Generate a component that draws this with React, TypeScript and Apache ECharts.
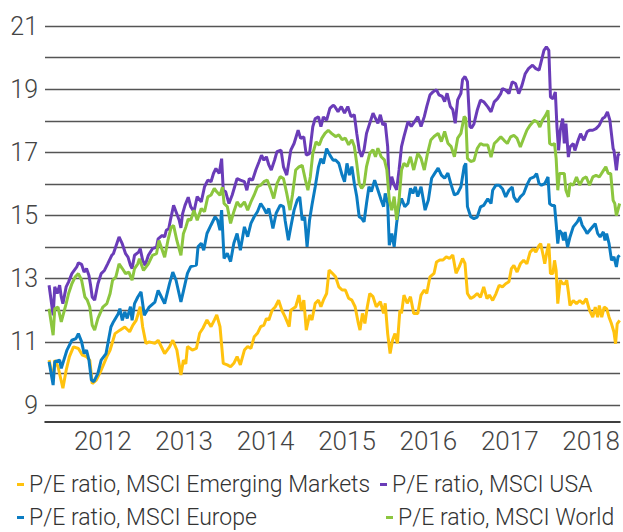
import React, { useEffect, useRef } from "react";
import * as echarts from "echarts";

// Year labels (placed at mid-year on the time axis)
const yearLabels = [2012, 2013, 2014, 2015, 2016, 2017, 2018];

const nameEM = "P/E ratio, MSCI Emerging Markets";
const nameUSA = "P/E ratio, MSCI USA";
const nameEurope = "P/E ratio, MSCI Europe";
const nameWorld = "P/E ratio, MSCI World";

// [decimal year, P/E]
const emergingMarkets: [number, number][] = [
  [2011.84, 10.42], [2011.89, 9.79], [2011.91, 10.42], [2011.95, 10.21], [2012.01, 9.53], [2012.05, 10.1],
  [2012.09, 10.53], [2012.14, 10.84], [2012.2, 10.79], [2012.25, 10.58], [2012.3, 10.53], [2012.34, 10.42],
  [2012.37, 9.68], [2012.42, 9.79], [2012.48, 10.1], [2012.55, 10.53], [2012.59, 10.74], [2012.65, 11.26],
  [2012.71, 11.37], [2012.77, 11.47], [2012.83, 11.32], [2012.87, 11.53], [2012.91, 11.68], [2012.96, 12.11],
  [2012.99, 11.47], [2013.03, 10.95], [2013.07, 11.0], [2013.14, 10.95], [2013.18, 11.05], [2013.26, 10.63],
  [2013.32, 10.84], [2013.36, 11.05], [2013.41, 10.74], [2013.46, 9.95], [2013.49, 10.42], [2013.52, 10.3],
  [2013.54, 10.85], [2013.6, 10.74], [2013.65, 10.79], [2013.69, 11.27], [2013.73, 11.43], [2013.78, 11.69],
  [2013.83, 11.48], [2013.87, 11.69], [2013.9, 11.85], [2013.94, 11.48], [2013.98, 10.32], [2014.03, 10.27],
  [2014.07, 10.21], [2014.11, 10.32], [2014.15, 10.53], [2014.19, 10.27], [2014.24, 10.74], [2014.28, 10.85],
  [2014.32, 10.79], [2014.36, 11.16], [2014.4, 11.27], [2014.44, 11.48], [2014.48, 11.53], [2014.51, 11.74],
  [2014.54, 11.69], [2014.58, 12.0], [2014.62, 12.11], [2014.66, 12.32], [2014.7, 12.0], [2014.74, 11.79],
  [2014.79, 11.48], [2014.81, 12.0], [2014.87, 12.11], [2014.91, 12.48], [2014.94, 12.0], [2014.97, 12.32],
  [2015.0, 11.37], [2015.04, 11.85], [2015.07, 11.69], [2015.11, 12.22], [2015.15, 12.32], [2015.18, 12.11],
  [2015.21, 12.32], [2015.25, 12.53], [2015.28, 13.27], [2015.32, 13.17], [2015.36, 13.06], [2015.4, 12.74],
  [2015.44, 12.64], [2015.48, 12.64], [2015.52, 12.38], [2015.56, 12.32], [2015.6, 12.11], [2015.64, 11.58],
  [2015.66, 11.37], [2015.69, 11.9], [2015.72, 11.58], [2015.75, 12.11], [2015.78, 12.53], [2015.82, 12.43],
  [2015.86, 12.11], [2015.91, 12.27], [2015.95, 11.9], [2015.97, 12.22], [2016.0, 11.26], [2016.03, 10.63],
  [2016.06, 11.06], [2016.09, 11.26], [2016.12, 10.95], [2016.15, 12.0], [2016.17, 11.9], [2016.2, 12.48],
  [2016.24, 12.22], [2016.28, 12.43], [2016.32, 11.9], [2016.37, 11.9], [2016.41, 12.48], [2016.45, 12.64],
  [2016.48, 12.53], [2016.52, 13.06], [2016.57, 13.17], [2016.6, 13.53], [2016.64, 13.59], [2016.68, 13.59],
  [2016.72, 13.69], [2016.76, 13.64], [2016.8, 13.75], [2016.84, 13.17], [2016.88, 13.38], [2016.92, 13.64],
  [2016.95, 13.48], [2016.98, 12.53], [2017.02, 12.37], [2017.06, 12.43], [2017.1, 12.53], [2017.14, 12.41],
  [2017.18, 12.74], [2017.22, 12.37], [2017.25, 12.48], [2017.29, 12.31], [2017.33, 12.52], [2017.37, 12.79],
  [2017.41, 12.74], [2017.45, 12.84], [2017.49, 12.9], [2017.52, 13.32], [2017.55, 13.42], [2017.59, 13.21],
  [2017.63, 13.47], [2017.67, 13.58], [2017.71, 13.47], [2017.75, 13.84], [2017.79, 13.95], [2017.82, 13.84],
  [2017.86, 14.05], [2017.88, 14.11], [2017.91, 13.74], [2017.93, 13.47], [2017.96, 13.9], [2017.98, 14.11],
  [2018.0, 13.16], [2018.03, 13.16], [2018.05, 13.58], [2018.07, 13.26], [2018.09, 12.21], [2018.12, 12.95],
  [2018.15, 12.84], [2018.18, 12.84], [2018.2, 12.95], [2018.22, 12.58], [2018.24, 12.15], [2018.28, 12.31],
  [2018.32, 12.21], [2018.36, 12.31], [2018.4, 12.21], [2018.44, 12.37], [2018.48, 12.0], [2018.52, 11.78],
  [2018.55, 12.1], [2018.58, 11.78], [2018.6, 12.15], [2018.63, 11.78], [2018.66, 12.1], [2018.69, 12.05],
  [2018.72, 11.78], [2018.75, 11.57], [2018.78, 11.31], [2018.8, 10.94], [2018.82, 11.57], [2018.85, 11.68],
];

const usa: [number, number][] = [
  [2011.84, 12.79], [2011.89, 11.84], [2011.91, 12.74], [2011.94, 12.53], [2011.97, 12.79], [2011.99, 12.42],
  [2012.01, 12.21], [2012.05, 12.74], [2012.08, 12.9], [2012.12, 13.16], [2012.18, 13.37], [2012.2, 13.5],
  [2012.24, 13.45], [2012.27, 13.21], [2012.3, 13.32], [2012.33, 13.1], [2012.35, 12.79], [2012.37, 12.42],
  [2012.4, 12.32], [2012.44, 12.84], [2012.48, 13.16], [2012.52, 13.26], [2012.56, 13.47], [2012.61, 13.74],
  [2012.63, 13.79], [2012.7, 14.32], [2012.74, 14.1], [2012.78, 13.79], [2012.81, 13.68], [2012.84, 13.42],
  [2012.86, 13.32], [2012.89, 13.74], [2012.94, 13.84], [2012.96, 13.95], [2012.99, 13.58], [2013.02, 13.42],
  [2013.06, 13.74], [2013.11, 13.95], [2013.16, 14.0], [2013.18, 14.26], [2013.23, 14.37], [2013.26, 14.32],
  [2013.28, 14.53], [2013.31, 14.58], [2013.33, 14.84], [2013.37, 15.32], [2013.41, 15.05], [2013.44, 14.84],
  [2013.46, 14.61], [2013.48, 15.05], [2013.51, 15.32], [2013.55, 15.58], [2013.58, 15.28], [2013.62, 15.12],
  [2013.66, 15.6], [2013.71, 15.43], [2013.75, 15.91], [2013.79, 16.12], [2013.83, 16.07], [2013.86, 16.33],
  [2013.89, 16.49], [2013.93, 16.33], [2013.96, 16.8], [2013.98, 15.8], [2014.01, 15.75], [2014.05, 15.38],
  [2014.09, 15.65], [2014.15, 16.17], [2014.19, 16.12], [2014.24, 16.07], [2014.27, 15.8], [2014.3, 16.17],
  [2014.34, 16.12], [2014.38, 16.44], [2014.42, 16.7], [2014.45, 16.91], [2014.48, 16.75], [2014.51, 16.86],
  [2014.54, 16.6], [2014.57, 16.44], [2014.61, 16.75], [2014.64, 17.02], [2014.69, 17.07], [2014.72, 16.54],
  [2014.76, 16.28], [2014.81, 17.07], [2014.85, 17.28], [2014.9, 17.7], [2014.93, 17.44], [2014.97, 17.49],
  [2015.0, 16.91], [2015.04, 16.96], [2015.08, 17.81], [2015.11, 18.07], [2015.15, 18.12], [2015.18, 17.81],
  [2015.21, 18.12], [2015.25, 18.02], [2015.29, 18.39], [2015.33, 18.49], [2015.35, 18.45], [2015.39, 18.29],
  [2015.43, 18.45], [2015.47, 18.24], [2015.51, 18.45], [2015.55, 18.13], [2015.59, 18.19], [2015.62, 17.6],
  [2015.65, 17.08], [2015.68, 16.86], [2015.71, 17.08], [2015.74, 17.6], [2015.78, 17.92], [2015.82, 18.24],
  [2015.84, 18.13], [2015.88, 17.92], [2015.91, 18.19], [2015.94, 17.87], [2015.97, 17.92], [2016.0, 17.18],
  [2016.02, 15.81], [2016.05, 16.23], [2016.08, 15.97], [2016.11, 15.81], [2016.14, 16.44], [2016.17, 17.18],
  [2016.2, 17.5], [2016.25, 17.97], [2016.29, 17.82], [2016.33, 17.97], [2016.37, 18.13], [2016.41, 17.82],
  [2016.45, 18.13], [2016.48, 18.45], [2016.52, 18.82], [2016.56, 18.92], [2016.6, 18.98], [2016.63, 18.82],
  [2016.67, 18.77], [2016.7, 18.61], [2016.73, 18.87], [2016.77, 18.45], [2016.8, 18.35], [2016.83, 17.92],
  [2016.86, 18.66], [2016.9, 18.87], [2016.92, 19.3], [2016.95, 19.4], [2016.98, 19.24], [2017.01, 17.82],
  [2017.03, 17.77], [2017.06, 17.9], [2017.1, 18.33], [2017.14, 18.65], [2017.18, 18.6], [2017.23, 18.44],
  [2017.27, 18.28], [2017.31, 18.6], [2017.35, 18.7], [2017.39, 18.86], [2017.41, 19.02], [2017.45, 18.97],
  [2017.49, 18.86], [2017.53, 19.23], [2017.57, 19.18], [2017.61, 18.86], [2017.65, 19.12], [2017.69, 19.49],
  [2017.73, 19.65], [2017.78, 19.76], [2017.82, 19.65], [2017.86, 19.6], [2017.89, 19.91], [2017.92, 20.23],
  [2017.95, 20.34], [2017.98, 20.23], [2018.0, 18.75], [2018.03, 18.7], [2018.06, 18.91], [2018.08, 17.8],
  [2018.1, 17.06], [2018.12, 17.69], [2018.15, 18.07], [2018.17, 17.28], [2018.19, 17.91], [2018.22, 16.85],
  [2018.24, 17.17], [2018.28, 17.28], [2018.3, 17.06], [2018.34, 17.38], [2018.37, 17.59], [2018.41, 17.38],
  [2018.45, 17.65], [2018.48, 17.7], [2018.52, 17.7], [2018.56, 17.75], [2018.6, 17.86], [2018.64, 18.07],
  [2018.67, 18.12], [2018.7, 18.28], [2018.73, 18.02], [2018.77, 17.12], [2018.78, 17.06], [2018.81, 16.43],
  [2018.83, 16.91], [2018.85, 16.96],
];

const europe: [number, number][] = [
  [2011.84, 10.37], [2011.89, 9.63], [2011.91, 10.37], [2011.97, 10.42], [2011.99, 10.16], [2012.06, 10.74],
  [2012.12, 11.05], [2012.17, 11.1], [2012.2, 11.26], [2012.24, 11.0], [2012.27, 10.63], [2012.3, 10.74],
  [2012.33, 10.42], [2012.36, 9.79], [2012.39, 9.74], [2012.44, 10.0], [2012.48, 10.42], [2012.54, 10.63],
  [2012.57, 11.05], [2012.6, 11.47], [2012.63, 11.63], [2012.69, 11.89], [2012.71, 12.05], [2012.74, 11.68],
  [2012.77, 11.95], [2012.8, 11.74], [2012.84, 12.11], [2012.86, 11.68], [2012.89, 12.21], [2012.93, 12.42],
  [2012.97, 12.58], [2013.01, 11.84], [2013.07, 12.1], [2013.14, 12.26], [2013.18, 12.63], [2013.22, 12.42],
  [2013.26, 12.21], [2013.32, 12.84], [2013.36, 13.21], [2013.4, 12.95], [2013.46, 12.26], [2013.49, 12.6],
  [2013.54, 13.17], [2013.58, 13.38], [2013.65, 13.43], [2013.67, 14.01], [2013.71, 14.12], [2013.74, 13.9],
  [2013.78, 14.43], [2013.83, 14.7], [2013.88, 14.96], [2013.91, 14.85], [2013.94, 14.54], [2013.96, 15.17],
  [2013.99, 13.64], [2014.03, 13.8], [2014.07, 13.54], [2014.11, 14.12], [2014.15, 14.43], [2014.19, 13.9],
  [2014.24, 14.64], [2014.28, 14.33], [2014.32, 14.75], [2014.36, 14.96], [2014.4, 15.12], [2014.44, 15.38],
  [2014.48, 15.22], [2014.51, 15.07], [2014.54, 15.22], [2014.57, 14.85], [2014.59, 14.59], [2014.63, 15.07],
  [2014.68, 15.33], [2014.72, 15.28], [2014.74, 14.85], [2014.78, 14.22], [2014.81, 14.64], [2014.85, 15.17],
  [2014.89, 15.49], [2014.92, 15.59], [2014.95, 14.85], [2014.98, 14.96], [2015.01, 14.01], [2015.04, 14.85],
  [2015.07, 15.33], [2015.11, 15.91], [2015.15, 16.54], [2015.18, 16.8], [2015.21, 16.64], [2015.25, 17.12],
  [2015.29, 16.91], [2015.33, 16.75], [2015.36, 16.76], [2015.4, 16.65], [2015.44, 16.28], [2015.47, 16.07],
  [2015.5, 16.65], [2015.53, 16.28], [2015.56, 16.55], [2015.59, 16.02], [2015.62, 15.6], [2015.65, 14.96],
  [2015.68, 14.91], [2015.71, 14.8], [2015.74, 15.38], [2015.77, 15.91], [2015.8, 15.76], [2015.84, 16.12],
  [2015.88, 15.81], [2015.92, 15.49], [2015.95, 15.28], [2015.97, 15.7], [2016.0, 15.39], [2016.02, 14.06],
  [2016.05, 14.43], [2016.08, 14.01], [2016.11, 14.75], [2016.14, 15.28], [2016.17, 15.54], [2016.21, 15.28],
  [2016.25, 15.39], [2016.28, 15.86], [2016.31, 15.7], [2016.34, 15.91], [2016.37, 15.6], [2016.41, 15.91],
  [2016.46, 15.17], [2016.5, 15.49], [2016.54, 16.18], [2016.58, 16.34], [2016.62, 16.5], [2016.66, 16.28],
  [2016.7, 16.18], [2016.74, 16.34], [2016.78, 15.97], [2016.82, 15.65], [2016.86, 15.7], [2016.9, 15.91],
  [2016.94, 16.55], [2016.96, 16.65], [2016.98, 15.28], [2017.02, 14.96], [2017.06, 14.9], [2017.1, 14.95],
  [2017.14, 15.27], [2017.18, 15.32], [2017.23, 15.53], [2017.27, 15.38], [2017.29, 15.8], [2017.33, 15.96],
  [2017.37, 15.96], [2017.41, 15.85], [2017.45, 15.59], [2017.49, 15.8], [2017.53, 15.9], [2017.55, 15.59],
  [2017.59, 15.43], [2017.63, 15.59], [2017.67, 15.69], [2017.71, 15.96], [2017.75, 16.17], [2017.8, 16.22],
  [2017.83, 16.33], [2017.86, 16.01], [2017.89, 15.96], [2017.93, 16.01], [2017.97, 16.22], [2017.99, 15.37],
  [2018.02, 15.32], [2018.05, 15.32], [2018.07, 14.74], [2018.09, 14.11], [2018.11, 14.53], [2018.14, 14.43],
  [2018.16, 14.21], [2018.18, 14.48], [2018.21, 14.0], [2018.24, 14.32], [2018.28, 14.64], [2018.33, 14.8],
  [2018.36, 14.95], [2018.39, 14.69], [2018.43, 14.53], [2018.45, 14.43], [2018.5, 14.59], [2018.55, 14.74],
  [2018.58, 14.43], [2018.61, 14.32], [2018.65, 14.48], [2018.67, 14.21], [2018.69, 14.43], [2018.72, 14.11],
  [2018.75, 13.58], [2018.78, 13.69], [2018.81, 13.37], [2018.83, 13.69], [2018.85, 13.74],
];

const world: [number, number][] = [
  [2011.84, 12.05], [2011.89, 11.21], [2011.91, 12.05], [2011.95, 12.1], [2011.99, 11.63], [2012.05, 12.21],
  [2012.08, 12.53], [2012.12, 12.84], [2012.16, 13.05], [2012.2, 13.16], [2012.24, 12.95], [2012.28, 12.42],
  [2012.31, 12.32], [2012.34, 12.1], [2012.37, 11.53], [2012.4, 11.37], [2012.44, 11.74], [2012.5, 12.1],
  [2012.55, 12.21], [2012.59, 12.53], [2012.62, 12.95], [2012.66, 13.05], [2012.7, 13.47], [2012.74, 13.32],
  [2012.78, 13.16], [2012.82, 13.21], [2012.86, 12.95], [2012.89, 13.32], [2012.93, 13.47], [2012.95, 13.63],
  [2013.0, 13.26], [2013.06, 13.47], [2013.11, 13.74], [2013.16, 13.79], [2013.19, 14.21], [2013.26, 13.68],
  [2013.3, 14.21], [2013.34, 14.63], [2013.37, 14.68], [2013.41, 14.21], [2013.46, 13.74], [2013.49, 14.42],
  [2013.52, 14.63], [2013.55, 14.89], [2013.58, 14.85], [2013.62, 15.17], [2013.66, 14.85], [2013.71, 15.22],
  [2013.75, 15.12], [2013.79, 15.59], [2013.83, 15.65], [2013.87, 15.86], [2013.9, 15.75], [2013.94, 15.64],
  [2013.97, 15.9], [2013.99, 15.38], [2014.03, 15.28], [2014.07, 14.75], [2014.11, 15.12], [2014.15, 15.43],
  [2014.19, 15.28], [2014.24, 15.43], [2014.28, 15.17], [2014.32, 15.43], [2014.36, 15.65], [2014.4, 15.91],
  [2014.44, 15.96], [2014.48, 16.07], [2014.52, 16.12], [2014.56, 15.86], [2014.6, 15.54], [2014.64, 16.01],
  [2014.68, 16.23], [2014.72, 16.17], [2014.76, 15.7], [2014.8, 15.17], [2014.83, 15.65], [2014.87, 16.44],
  [2014.91, 16.54], [2014.95, 16.59], [2014.99, 16.12], [2015.02, 15.8], [2015.05, 16.23], [2015.08, 16.96],
  [2015.12, 17.33], [2015.16, 17.23], [2015.19, 17.44], [2015.23, 17.6], [2015.27, 17.7], [2015.31, 17.6],
  [2015.36, 17.5], [2015.4, 17.55], [2015.44, 17.4], [2015.48, 17.45], [2015.52, 17.24], [2015.56, 17.4],
  [2015.59, 17.19], [2015.62, 16.65], [2015.65, 16.02], [2015.68, 15.86], [2015.71, 15.97], [2015.74, 16.55],
  [2015.78, 16.97], [2015.82, 17.08], [2015.85, 16.86], [2015.88, 17.13], [2015.92, 16.86], [2015.96, 16.76],
  [2015.99, 16.44], [2016.02, 15.49], [2016.05, 15.17], [2016.08, 15.6], [2016.11, 14.86], [2016.14, 15.49],
  [2016.17, 16.44], [2016.2, 16.65], [2016.24, 16.55], [2016.28, 16.86], [2016.32, 16.44], [2016.37, 16.97],
  [2016.41, 16.81], [2016.45, 16.44], [2016.49, 16.97], [2016.53, 17.39], [2016.57, 17.5], [2016.62, 17.6],
  [2016.66, 17.34], [2016.7, 17.66], [2016.74, 17.29], [2016.78, 17.18], [2016.82, 16.86], [2016.86, 17.45],
  [2016.9, 17.6], [2016.94, 18.13], [2016.96, 18.08], [2016.98, 16.81], [2017.02, 16.71], [2017.06, 16.74],
  [2017.1, 17.12], [2017.14, 17.28], [2017.18, 17.23], [2017.23, 17.23], [2017.27, 16.85], [2017.31, 17.28],
  [2017.35, 17.38], [2017.39, 17.49], [2017.43, 17.38], [2017.47, 17.28], [2017.51, 17.49], [2017.55, 17.54],
  [2017.59, 17.44], [2017.63, 17.17], [2017.67, 17.44], [2017.71, 17.7], [2017.75, 17.86], [2017.8, 18.01],
  [2017.84, 17.96], [2017.87, 17.8], [2017.9, 18.01], [2017.94, 18.17], [2017.97, 18.33], [2017.99, 17.28],
  [2018.02, 17.23], [2018.05, 17.28], [2018.07, 16.8], [2018.09, 15.8], [2018.11, 16.33], [2018.14, 16.33],
  [2018.17, 16.33], [2018.19, 15.8], [2018.22, 15.59], [2018.24, 16.01], [2018.28, 15.96], [2018.32, 16.22],
  [2018.36, 15.96], [2018.4, 16.17], [2018.44, 16.22], [2018.48, 15.96], [2018.52, 16.22], [2018.56, 16.27],
  [2018.6, 16.22], [2018.64, 16.38], [2018.68, 16.54], [2018.71, 16.33], [2018.74, 16.33], [2018.77, 15.48],
  [2018.79, 15.38], [2018.81, 15.0], [2018.85, 15.38],
];

const FONT = "Roboto, 'Noto Sans', sans-serif";

export default function App() {
  const ref = useRef<HTMLDivElement>(null);

  useEffect(() => {
    if (!ref.current) return;
    const chart = echarts.init(ref.current, null, { renderer: "svg" });

    const legendCommon = {
      orient: "horizontal" as const,
      icon: "rect",
      itemWidth: 7,
      itemHeight: 3,
      padding: 0,
      selectedMode: false,
      textStyle: { fontSize: 23, color: "#333", fontFamily: FONT, fontWeight: 300 },
    };

    const line = (name: string, data: [number, number][], color: string) => ({
      name,
      type: "line",
      data,
      showSymbol: false,
      symbol: "none",
      color,
      lineStyle: { width: 3, color },
      emphasis: { disabled: true },
      z: 2,
    });

    chart.setOption({
      animation: false,
      backgroundColor: "#fff",
      grid: { left: 45, right: 0, top: 26, bottom: 127, containLabel: false },
      xAxis: {
        type: "value",
        min: 2011.79,
        max: 2018.855,
        offset: 17,
        axisLine: { show: true, lineStyle: { color: "#000", width: 1.5 } },
        axisTick: { show: false },
        splitLine: { show: false },
        axisLabel: {
          customValues: yearLabels.map((y) => y + 0.5),
          formatter: (v: number) => String(Math.floor(v)),
          fontSize: 26,
          color: "#444",
          fontFamily: FONT,
          fontWeight: 300,
          margin: 6,
        },
      },
      yAxis: {
        type: "value",
        min: 9,
        max: 21,
        interval: 1,
        axisLine: { show: false },
        axisTick: { show: false },
        splitLine: { show: true, lineStyle: { color: "#555", width: 1.3 } },
        axisLabel: {
          formatter: (v: number) => (Math.round(v) % 2 === 1 ? String(v) : ""),
          fontSize: 25,
          color: "#444",
          fontFamily: FONT,
          fontWeight: 300,
          margin: 7,
        },
      },
      legend: [
        { ...legendCommon, data: [nameEM], left: 17, top: 473 },
        { ...legendCommon, data: [nameUSA], left: 380, top: 473 },
        { ...legendCommon, data: [nameEurope], left: 17, top: 506 },
        { ...legendCommon, data: [nameWorld], left: 386, top: 506 },
      ],
      series: [
        line(nameEM, emergingMarkets, "#FFC20E"),
        line(nameUSA, usa, "#6A3CB8"),
        line(nameEurope, europe, "#0B7CC2"),
        line(nameWorld, world, "#8CC63F"),
      ],
    });

    return () => chart.dispose();
  }, []);

  return (
    <div
      ref={ref}
      style={{ position: "absolute", left: 0, top: 0, width: 623, height: 532, background: "#fff" }}
    />
  );
}
